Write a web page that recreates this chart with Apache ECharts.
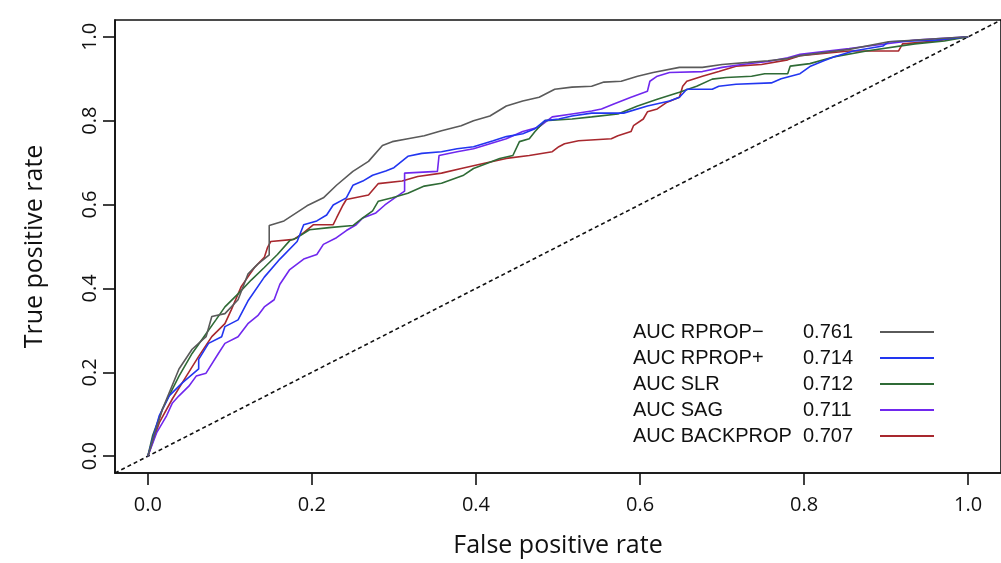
<!DOCTYPE html>
<html>
<head>
<meta charset="utf-8">
<script src="https://cdn.jsdelivr.net/npm/echarts@6/dist/echarts.min.js"></script>
<style>html,body{margin:0;padding:0;background:#fff;}#c{width:1001px;height:563px;}</style>
</head>
<body>
<div id="c"></div>
<script>
const seriesNames = ['AUC RPROP\u2212', 'AUC RPROP+', 'AUC SLR', 'AUC SAG', 'AUC BACKPROP'];
const aucValues = ['0.761', '0.714', '0.712', '0.711', '0.707'];
const xTicks = [0, 0.2, 0.4, 0.6, 0.8, 1.0];
const yTicks = [0, 0.2, 0.4, 0.6, 0.8, 1.0];
const diagonal = [[-0.04, -0.04], [1.04, 1.04]];

const rpropMinus = [[0,0],[0.018,0.113],[0.038,0.208],[0.054,0.255],[0.071,0.285],[0.078,0.333],[0.094,0.340],[0.110,0.373],[0.122,0.434],[0.134,0.458],[0.148,0.48],[0.148,0.55],[0.166,0.561],[0.194,0.597],[0.214,0.616],[0.230,0.646],[0.250,0.679],[0.269,0.703],[0.286,0.741],[0.298,0.750],[0.317,0.757],[0.337,0.764],[0.358,0.776],[0.382,0.788],[0.397,0.800],[0.417,0.811],[0.437,0.835],[0.457,0.847],[0.477,0.856],[0.496,0.875],[0.517,0.880],[0.541,0.882],[0.556,0.892],[0.577,0.894],[0.597,0.906],[0.616,0.915],[0.648,0.927],[0.676,0.927],[0.700,0.934],[0.732,0.939],[0.756,0.943],[0.780,0.948],[0.795,0.955],[0.855,0.970],[0.903,0.988],[1,1]];

const rpropPlus = [[0,0],[0.014,0.097],[0.026,0.144],[0.042,0.175],[0.062,0.208],[0.062,0.231],[0.074,0.269],[0.090,0.285],[0.094,0.309],[0.110,0.325],[0.122,0.370],[0.142,0.427],[0.161,0.470],[0.182,0.512],[0.190,0.552],[0.206,0.561],[0.218,0.575],[0.226,0.599],[0.242,0.616],[0.250,0.646],[0.262,0.656],[0.274,0.670],[0.290,0.680],[0.300,0.688],[0.317,0.715],[0.334,0.722],[0.358,0.726],[0.377,0.733],[0.397,0.738],[0.409,0.745],[0.421,0.752],[0.437,0.762],[0.457,0.769],[0.472,0.781],[0.484,0.800],[0.501,0.804],[0.517,0.811],[0.541,0.818],[0.580,0.818],[0.609,0.835],[0.636,0.847],[0.648,0.856],[0.657,0.875],[0.688,0.875],[0.696,0.882],[0.717,0.887],[0.760,0.890],[0.772,0.900],[0.795,0.912],[0.807,0.929],[0.824,0.943],[0.836,0.952],[0.860,0.966],[0.896,0.978],[0.903,0.988],[0.960,0.992],[1,1]];

const slr = [[0,0],[0.006,0.050],[0.018,0.113],[0.030,0.160],[0.038,0.191],[0.054,0.245],[0.071,0.292],[0.083,0.325],[0.094,0.356],[0.110,0.387],[0.126,0.420],[0.142,0.450],[0.158,0.481],[0.173,0.514],[0.182,0.521],[0.197,0.540],[0.221,0.545],[0.250,0.550],[0.262,0.568],[0.274,0.585],[0.281,0.608],[0.298,0.616],[0.317,0.627],[0.337,0.644],[0.358,0.651],[0.385,0.670],[0.397,0.686],[0.413,0.698],[0.429,0.710],[0.445,0.717],[0.453,0.750],[0.465,0.757],[0.472,0.774],[0.484,0.800],[0.517,0.804],[0.541,0.809],[0.573,0.816],[0.597,0.835],[0.621,0.851],[0.648,0.868],[0.669,0.882],[0.688,0.899],[0.705,0.903],[0.736,0.906],[0.752,0.912],[0.780,0.912],[0.783,0.930],[0.807,0.936],[0.836,0.952],[0.876,0.966],[0.935,0.983],[0.971,0.990],[1,1]];

const sag = [[0,0],[0.011,0.057],[0.023,0.097],[0.030,0.127],[0.038,0.144],[0.050,0.167],[0.059,0.191],[0.071,0.198],[0.086,0.245],[0.094,0.269],[0.110,0.285],[0.122,0.316],[0.134,0.335],[0.142,0.356],[0.154,0.373],[0.161,0.410],[0.173,0.445],[0.190,0.470],[0.206,0.481],[0.214,0.505],[0.230,0.521],[0.242,0.538],[0.254,0.552],[0.262,0.568],[0.278,0.580],[0.289,0.599],[0.301,0.616],[0.313,0.632],[0.313,0.675],[0.353,0.679],[0.355,0.717],[0.377,0.726],[0.397,0.733],[0.417,0.745],[0.437,0.757],[0.457,0.774],[0.477,0.785],[0.493,0.809],[0.517,0.816],[0.541,0.823],[0.553,0.828],[0.568,0.840],[0.589,0.856],[0.609,0.870],[0.612,0.894],[0.621,0.906],[0.636,0.915],[0.676,0.917],[0.700,0.927],[0.724,0.934],[0.756,0.941],[0.780,0.950],[0.795,0.958],[0.855,0.972],[0.896,0.982],[0.935,0.992],[1,1]];

const backprop = [[0,0],[0.014,0.080],[0.030,0.137],[0.047,0.191],[0.062,0.238],[0.078,0.285],[0.094,0.316],[0.102,0.350],[0.114,0.405],[0.130,0.450],[0.142,0.474],[0.146,0.498],[0.150,0.512],[0.178,0.517],[0.190,0.533],[0.202,0.552],[0.226,0.552],[0.230,0.568],[0.238,0.599],[0.242,0.612],[0.269,0.623],[0.281,0.650],[0.310,0.656],[0.329,0.667],[0.358,0.675],[0.382,0.686],[0.409,0.698],[0.437,0.710],[0.465,0.717],[0.493,0.726],[0.501,0.738],[0.508,0.745],[0.525,0.752],[0.565,0.757],[0.573,0.764],[0.589,0.774],[0.592,0.788],[0.604,0.804],[0.609,0.821],[0.621,0.828],[0.633,0.844],[0.648,0.856],[0.652,0.882],[0.657,0.894],[0.676,0.906],[0.696,0.917],[0.717,0.930],[0.748,0.934],[0.780,0.945],[0.795,0.955],[0.855,0.966],[0.915,0.966],[0.920,0.983],[0.960,0.990],[1,1]];

const curveData = [rpropMinus, rpropPlus, slr, sag, backprop];
const curveColors = ['#5a5a5a', '#2236f0', '#2f6b36', '#7028ee', '#a8282e'];

const chart = echarts.init(document.getElementById('c'), null, {renderer: 'canvas'});
const aucByName = {};
seriesNames.forEach((n, i) => { aucByName[n] = aucValues[i]; });

const series = seriesNames.map((name, i) => ({
  name: name,
  type: 'line',
  data: curveData[i],
  symbol: 'none',
  showSymbol: false,
  smooth: false,
  lineStyle: {color: curveColors[i], width: 1.6},
  itemStyle: {color: curveColors[i]},
  z: 5 - i + 2,
  animation: false
}));
series.push({
  name: 'diag',
  type: 'line',
  data: diagonal,
  symbol: 'none',
  lineStyle: {color: '#111', width: 1.6, type: [4, 3]},
  z: 1,
  animation: false,
  silent: true
});

const axisFont = 'Open Sans';
chart.setOption({
  animation: false,
  backgroundColor: '#fff',
  grid: {left: 115, top: 20, width: 903, height: 458, show: true, borderColor: '#111', borderWidth: 1.6, backgroundColor: 'transparent'},
  xAxis: {
    type: 'value', min: -0.04, max: 1.04,
    axisLine: {show: true, onZero: false, lineStyle: {color: '#111', width: 1.6}},
    axisTick: {show: true, customValues: xTicks, length: 12, lineStyle: {color: '#111', width: 1.6}},
    axisLabel: {customValues: xTicks, formatter: v => Number(v).toFixed(1), fontSize: 20, fontFamily: axisFont, color: '#111', margin: 22},
    splitLine: {show: false},
    name: 'False positive rate', nameLocation: 'middle', nameGap: 60,
    nameTextStyle: {fontSize: 25, fontFamily: axisFont, color: '#111'}
  },
  yAxis: {
    type: 'value', min: -0.04, max: 1.04,
    axisLine: {show: true, onZero: false, lineStyle: {color: '#111', width: 1.6}},
    axisTick: {show: true, customValues: yTicks, length: 12, lineStyle: {color: '#111', width: 1.6}},
    axisLabel: {customValues: yTicks, formatter: v => Number(v).toFixed(1), fontSize: 20, fontFamily: axisFont, color: '#111', margin: 15, rotate: 90},
    splitLine: {show: false},
    name: 'True positive rate', nameLocation: 'middle', nameGap: 68,
    nameTextStyle: {fontSize: 25, fontFamily: axisFont, color: '#111'}
  },
  legend: {
    data: seriesNames,
    orient: 'vertical',
    left: 633, top: 322,
    padding: 0,
    align: 'right',
    icon: 'rect',
    itemWidth: 54, itemHeight: 2, itemGap: 6,
    selectedMode: false,
    formatter: name => '{n|' + name + '}{v|' + aucByName[name] + '}',
    textStyle: {
      fontFamily: 'Liberation Sans', fontSize: 20, color: '#111', lineHeight: 20,
      rich: {
        n: {width: 170, align: 'left', fontFamily: 'Liberation Sans', fontSize: 20, lineHeight: 20, color: '#111'},
        v: {width: 72, align: 'left', fontFamily: 'Liberation Sans', fontSize: 20, lineHeight: 20, color: '#111'}
      }
    }
  },
  series: series
});
</script>
</body>
</html>
